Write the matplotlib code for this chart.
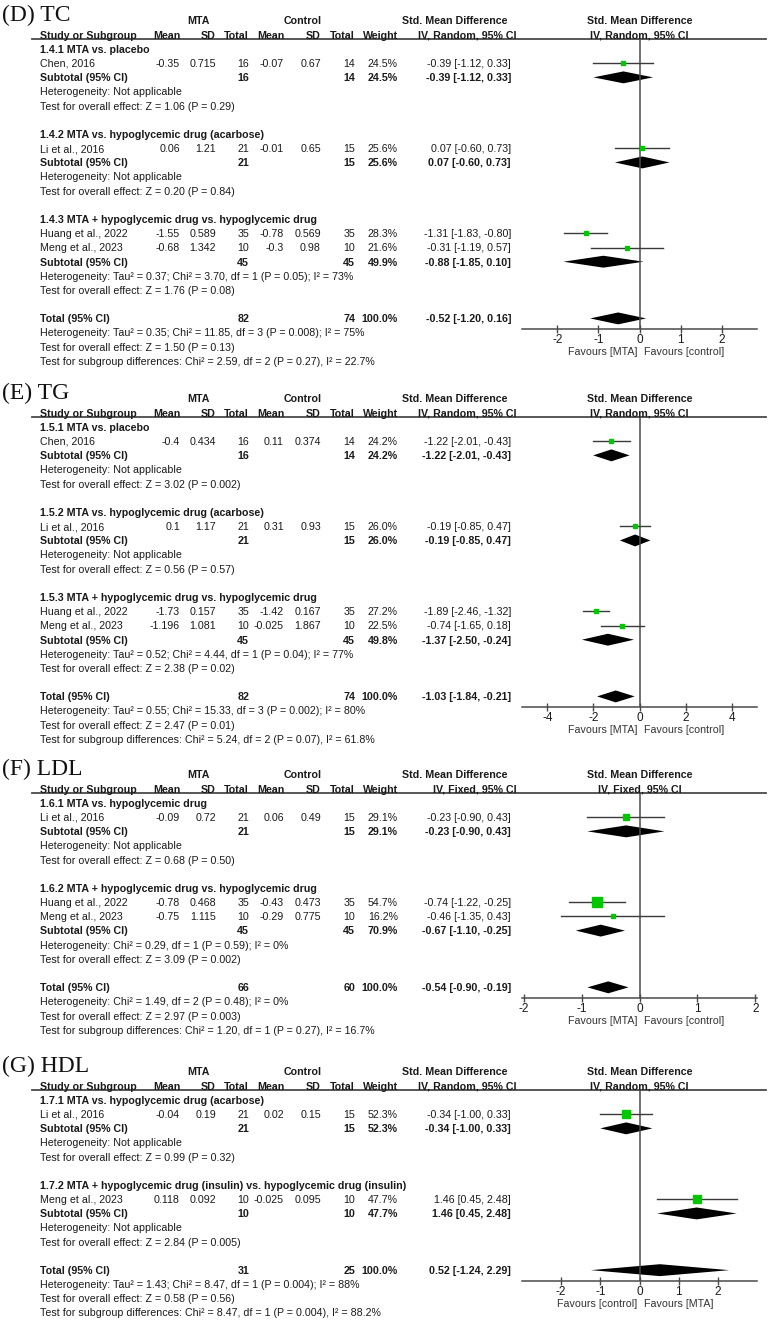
import matplotlib
matplotlib.use("Agg")
import matplotlib.pyplot as plt
from matplotlib.transforms import blended_transform_factory

plt.rcParams['font.family'] = ['Liberation Sans', 'DejaVu Sans']

# ---------------- data ----------------
# studies: subgroup, name, MTA mean, SD, total, control mean, SD, total, weight %, SMD, lower, upper
# subgroups: title, MTA total, control total, weight %, SMD, lower, upper, heterogeneity, overall effect

# (D) TC
TC_STUDIES = [
    (0, "Chen, 2016", -0.35, 0.715, 16, -0.07, 0.67, 14, 24.5, -0.39, -1.12, 0.33),
    (1, "Li et al., 2016", 0.06, 1.21, 21, -0.01, 0.65, 15, 25.6, 0.07, -0.60, 0.73),
    (2, "Huang et al., 2022", -1.55, 0.589, 35, -0.78, 0.569, 35, 28.3, -1.31, -1.83, -0.80),
    (2, "Meng et al., 2023", -0.68, 1.342, 10, -0.3, 0.98, 10, 21.6, -0.31, -1.19, 0.57),
]
TC_SUBGROUPS = [
    ("1.4.1 MTA vs. placebo", 16, 14, 24.5, -0.39, -1.12, 0.33,
     "Not applicable", "Z = 1.06 (P = 0.29)"),
    ("1.4.2 MTA vs. hypoglycemic drug (acarbose)", 21, 15, 25.6, 0.07, -0.60, 0.73,
     "Not applicable", "Z = 0.20 (P = 0.84)"),
    ("1.4.3 MTA + hypoglycemic drug vs. hypoglycemic drug", 45, 45, 49.9, -0.88, -1.85, 0.10,
     "Tau² = 0.37; Chi² = 3.70, df = 1 (P = 0.05); I² = 73%", "Z = 1.76 (P = 0.08)"),
]
TC_TOTAL = (82, 74, 100.0, -0.52, -1.20, 0.16)
TC_NOTES = ["Heterogeneity: Tau² = 0.35; Chi² = 11.85, df = 3 (P = 0.008); I² = 75%",
            "Test for overall effect: Z = 1.50 (P = 0.13)",
            "Test for subgroup differences: Chi² = 2.59, df = 2 (P = 0.27), I² = 22.7%"]

# (E) TG
TG_STUDIES = [
    (0, "Chen, 2016", -0.4, 0.434, 16, 0.11, 0.374, 14, 24.2, -1.22, -2.01, -0.43),
    (1, "Li et al., 2016", 0.1, 1.17, 21, 0.31, 0.93, 15, 26.0, -0.19, -0.85, 0.47),
    (2, "Huang et al., 2022", -1.73, 0.157, 35, -1.42, 0.167, 35, 27.2, -1.89, -2.46, -1.32),
    (2, "Meng et al., 2023", -1.196, 1.081, 10, -0.025, 1.867, 10, 22.5, -0.74, -1.65, 0.18),
]
TG_SUBGROUPS = [
    ("1.5.1 MTA vs. placebo", 16, 14, 24.2, -1.22, -2.01, -0.43,
     "Not applicable", "Z = 3.02 (P = 0.002)"),
    ("1.5.2 MTA vs. hypoglycemic drug (acarbose)", 21, 15, 26.0, -0.19, -0.85, 0.47,
     "Not applicable", "Z = 0.56 (P = 0.57)"),
    ("1.5.3 MTA + hypoglycemic drug vs. hypoglycemic drug", 45, 45, 49.8, -1.37, -2.50, -0.24,
     "Tau² = 0.52; Chi² = 4.44, df = 1 (P = 0.04); I² = 77%", "Z = 2.38 (P = 0.02)"),
]
TG_TOTAL = (82, 74, 100.0, -1.03, -1.84, -0.21)
TG_NOTES = ["Heterogeneity: Tau² = 0.55; Chi² = 15.33, df = 3 (P = 0.002); I² = 80%",
            "Test for overall effect: Z = 2.47 (P = 0.01)",
            "Test for subgroup differences: Chi² = 5.24, df = 2 (P = 0.07), I² = 61.8%"]

# (F) LDL
LDL_STUDIES = [
    (0, "Li et al., 2016", -0.09, 0.72, 21, 0.06, 0.49, 15, 29.1, -0.23, -0.90, 0.43),
    (1, "Huang et al., 2022", -0.78, 0.468, 35, -0.43, 0.473, 35, 54.7, -0.74, -1.22, -0.25),
    (1, "Meng et al., 2023", -0.75, 1.115, 10, -0.29, 0.775, 10, 16.2, -0.46, -1.35, 0.43),
]
LDL_SUBGROUPS = [
    ("1.6.1 MTA vs. hypoglycemic drug", 21, 15, 29.1, -0.23, -0.90, 0.43,
     "Not applicable", "Z = 0.68 (P = 0.50)"),
    ("1.6.2 MTA + hypoglycemic drug vs. hypoglycemic drug", 45, 45, 70.9, -0.67, -1.10, -0.25,
     "Chi² = 0.29, df = 1 (P = 0.59); I² = 0%", "Z = 3.09 (P = 0.002)"),
]
LDL_TOTAL = (66, 60, 100.0, -0.54, -0.90, -0.19)
LDL_NOTES = ["Heterogeneity: Chi² = 1.49, df = 2 (P = 0.48); I² = 0%",
             "Test for overall effect: Z = 2.97 (P = 0.003)",
             "Test for subgroup differences: Chi² = 1.20, df = 1 (P = 0.27), I² = 16.7%"]

# (G) HDL
HDL_STUDIES = [
    (0, "Li et al., 2016", -0.04, 0.19, 21, 0.02, 0.15, 15, 52.3, -0.34, -1.00, 0.33),
    (1, "Meng et al., 2023", 0.118, 0.092, 10, -0.025, 0.095, 10, 47.7, 1.46, 0.45, 2.48),
]
HDL_SUBGROUPS = [
    ("1.7.1 MTA vs. hypoglycemic drug (acarbose)", 21, 15, 52.3, -0.34, -1.00, 0.33,
     "Not applicable", "Z = 0.99 (P = 0.32)"),
    ("1.7.2 MTA + hypoglycemic drug (insulin) vs. hypoglycemic drug (insulin)", 10, 10, 47.7, 1.46, 0.45, 2.48,
     "Not applicable", "Z = 2.84 (P = 0.005)"),
]
HDL_TOTAL = (31, 25, 100.0, 0.52, -1.24, 2.29)
HDL_NOTES = ["Heterogeneity: Tau² = 1.43; Chi² = 8.47, df = 1 (P = 0.004); I² = 88%",
             "Test for overall effect: Z = 0.58 (P = 0.56)",
             "Test for subgroup differences: Chi² = 8.47, df = 1 (P = 0.004), I² = 88.2%"]

PANELS = [
    dict(title="(D) TC", studies=TC_STUDIES, subgroups=TC_SUBGROUPS, total=TC_TOTAL, notes=TC_NOTES,
         method="IV, Random, 95% CI", top=49, lim=2.86, ticks=[-2, -1, 0, 1, 2],
         favours=("Favours [MTA]", "Favours [control]")),
    dict(title="(E) TG", studies=TG_STUDIES, subgroups=TG_SUBGROUPS, total=TG_TOTAL, notes=TG_NOTES,
         method="IV, Random, 95% CI", top=427, lim=5.1, ticks=[-4, -2, 0, 2, 4],
         favours=("Favours [MTA]", "Favours [control]")),
    dict(title="(F) LDL", studies=LDL_STUDIES, subgroups=LDL_SUBGROUPS, total=LDL_TOTAL, notes=LDL_NOTES,
         method="IV, Fixed, 95% CI", top=803, lim=2.03, ticks=[-2, -1, 0, 1, 2],
         favours=("Favours [MTA]", "Favours [control]")),
    dict(title="(G) HDL", studies=HDL_STUDIES, subgroups=HDL_SUBGROUPS, total=HDL_TOTAL, notes=HDL_NOTES,
         method="IV, Random, 95% CI", top=1100, lim=3.0, ticks=[-2, -1, 0, 1, 2],
         favours=("Favours [control]", "Favours [MTA]")),
]

# ---------------- layout ----------------
W, H = 768, 1321
DY = 14.18          # row pitch in pixels
FS = 7.7
TXT = '#1a1a1a'
AXC = '#4a4a4a'
GREEN = '#00c800'
# right edges of numeric columns
COLS = [180, 216, 249, 284, 321, 355]
X_NAME, X_WEIGHT, X_CI = 40, 398, 511
FX0, FX1 = 522, 757  # forest plot horizontal extent

fig = plt.figure(figsize=(W / 100, H / 100), dpi=100)
bg = fig.add_axes([0, 0, 1, 1])
bg.set_xlim(0, W)
bg.set_ylim(H, 0)
bg.axis('off')


def put(x, y, s, ha='left', bold=False, **kw):
    bg.text(x, y + 3.8, s, ha=ha, va='baseline', fontsize=FS, color=TXT,
            fontweight='bold' if bold else 'normal', **kw)


def ci(smd, lo, hi):
    return f"{smd:.2f} [{lo:.2f}, {hi:.2f}]"


for p in PANELS:
    top = p['top']
    ry = lambda r: top + r * DY

    # title
    bg.text(2, top - 28, p['title'], family='Liberation Serif', fontsize=17,
            color='#111111', va='baseline')

    # header rows
    put(198, ry(-2), "MTA", ha='center', bold=True)
    put(303, ry(-2), "Control", ha='center', bold=True)
    put(508, ry(-2), "Std. Mean Difference", ha='right', bold=True)
    put((FX0 + FX1) / 2, ry(-2), "Std. Mean Difference", ha='center', bold=True)
    put(X_NAME, ry(-1), "Study or Subgroup", bold=True)
    for x, lab in zip(COLS, ["Mean", "SD", "Total", "Mean", "SD", "Total"]):
        put(x, ry(-1), lab, ha='right', bold=True)
    put(X_WEIGHT, ry(-1), "Weight", ha='right', bold=True)
    put(517, ry(-1), p['method'], ha='right', bold=True)
    put((FX0 + FX1) / 2, ry(-1), p['method'], ha='center', bold=True)
    bg.plot([32, 766], [ry(-0.68), ry(-0.68)], color=AXC, lw=1.3)

    # rows
    study_rows, sub_rows = [], []
    r = 0
    for g, sg in enumerate(p['subgroups']):
        put(X_NAME, ry(r), sg[0], bold=True)
        r += 1
        for st in p['studies']:
            if st[0] != g:
                continue
            put(X_NAME, ry(r), st[1])
            for x, v in zip(COLS, st[2:8]):
                put(x, ry(r), str(v), ha='right')
            put(X_WEIGHT, ry(r), f"{st[8]:.1f}%", ha='right')
            put(X_CI, ry(r), ci(*st[9:12]), ha='right')
            study_rows.append((r, st))
            r += 1
        put(X_NAME, ry(r), "Subtotal (95% CI)", bold=True)
        put(COLS[2], ry(r), str(sg[1]), ha='right', bold=True)
        put(COLS[5], ry(r), str(sg[2]), ha='right', bold=True)
        put(X_WEIGHT, ry(r), f"{sg[3]:.1f}%", ha='right', bold=True)
        put(X_CI, ry(r), ci(*sg[4:7]), ha='right', bold=True)
        sub_rows.append((r, sg[4:7]))
        put(X_NAME, ry(r + 1), "Heterogeneity: " + sg[7])
        put(X_NAME, ry(r + 2), "Test for overall effect: " + sg[8])
        r += 4

    tot = p['total']
    total_row = r
    put(X_NAME, ry(total_row), "Total (95% CI)", bold=True)
    put(COLS[2], ry(total_row), str(tot[0]), ha='right', bold=True)
    put(COLS[5], ry(total_row), str(tot[1]), ha='right', bold=True)
    put(X_WEIGHT, ry(total_row), f"{tot[2]:.1f}%", ha='right', bold=True)
    put(X_CI, ry(total_row), ci(*tot[3:6]), ha='right', bold=True)
    for k, note in enumerate(p['notes']):
        put(X_NAME, ry(total_row + 1 + k), note)

    # forest plot axes, x in SMD units, y in row units
    axis_row = total_row + 0.78
    y_top, y_bot = ry(-0.68), ry(axis_row)
    ax = fig.add_axes([FX0 / W, 1 - y_bot / H, (FX1 - FX0) / W, (y_bot - y_top) / H])
    ax.set_xlim(-p['lim'], p['lim'])
    ax.set_ylim(axis_row, -0.68)
    ax.patch.set_alpha(0)
    for s in ['left', 'right', 'top']:
        ax.spines[s].set_visible(False)
    ax.spines['bottom'].set_color(AXC)
    ax.spines['bottom'].set_linewidth(1.1)
    ax.set_yticks([])
    ax.set_xticks(p['ticks'])
    ax.set_xticklabels([str(t) for t in p['ticks']])
    ax.tick_params(axis='x', direction='inout', length=6, width=1.0, color=AXC,
                   labelsize=8.5, labelcolor=TXT, pad=0.5)
    ax.axvline(0, color=AXC, lw=1.1)

    for row, st in study_rows:
        ax.plot([st[10], st[11]], [row, row], color='#3a3a3a', lw=1.0)
        side = (0.155 * st[8] + 0.6) * 0.72
        ax.plot(st[9], row, marker='s', ms=side, color=GREEN, mec=GREEN, lw=0)
    h = 0.42
    for row, (m, lo, hi) in sub_rows + [(total_row, tot[3:6])]:
        ax.fill([lo, m, hi, m], [row, row - h, row, row + h], color='black', lw=0)

    tr = blended_transform_factory(ax.transData, ax.transAxes)
    ax.annotate(p['favours'][0], xy=(0, 0), xycoords=tr, xytext=(-2, -23),
                textcoords='offset pixels', ha='right', va='center', fontsize=FS, color='#333333')
    ax.annotate(p['favours'][1], xy=(0, 0), xycoords=tr, xytext=(4, -23),
                textcoords='offset pixels', ha='left', va='center', fontsize=FS, color='#333333')

fig.savefig("out.png", dpi=100)
